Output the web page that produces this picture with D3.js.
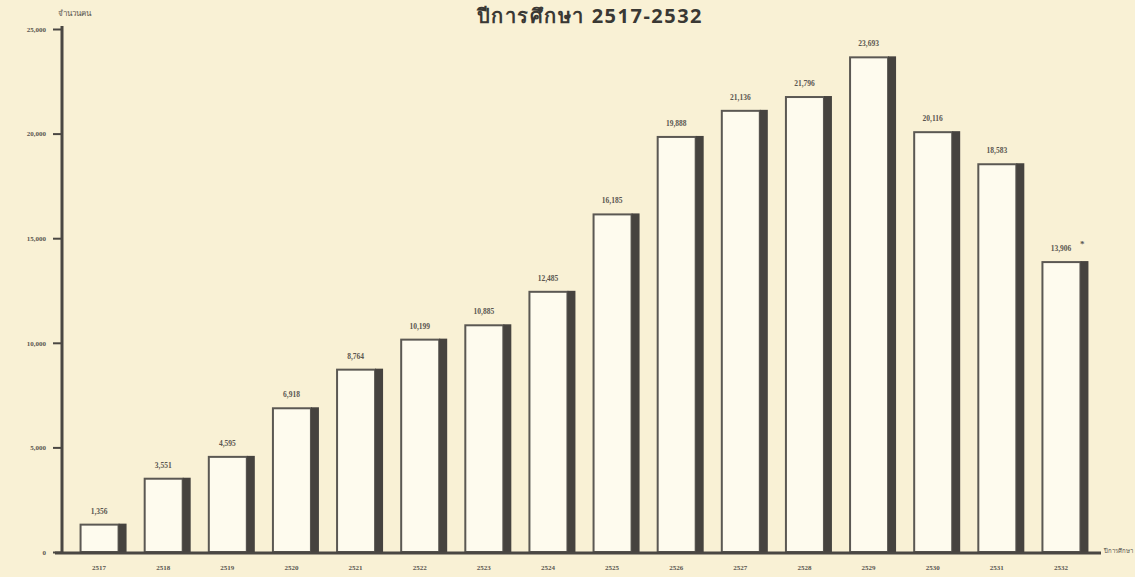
<!DOCTYPE html>
<html>
<head>
<meta charset="utf-8">
<script src="https://cdn.jsdelivr.net/npm/d3@7"></script>
<style>
  html, body { margin: 0; padding: 0; background: #f9f1d5; }
  svg { display: block; }
  .num { font-family: "Liberation Serif", "DejaVu Serif", serif; font-weight: bold; fill: #5a5650; }
</style>
</head>
<body>
<div id="chart"></div>
<script>
// ปีการศึกษา (แกน x)
const years = ["2517", "2518", "2519", "2520", "2521", "2522", "2523", "2524",
               "2525", "2526", "2527", "2528", "2529", "2530", "2531", "2532"];
// จำนวนคน
const students = [1356, 3551, 4595, 6918, 8764, 10199, 10885, 12485,
                  16185, 19888, 21136, 21796, 23693, 20116, 18583, 13906];
const yTicks = [0, 5000, 10000, 15000, 20000, 25000];
const noteMark = ["", "", "", "", "", "", "", "", "", "", "", "", "", "", "", "*"];

const W = 1135, H = 577;
const shadow = 8;

const svg = d3.select("#chart").append("svg")
    .attr("width", W)
    .attr("height", H);

const x = d3.scaleBand()
    .domain(years)
    .range([71, 1097])
    .paddingInner(0.267)
    .paddingOuter(0.1335);

const y = d3.scaleLinear()
    .domain([0, 25000])
    .range([552, 29]);

// title
svg.append("text")
    .attr("x", 590).attr("y", 23)
    .attr("text-anchor", "middle")
    .style("font-family", "'Noto Sans', 'DejaVu Sans', sans-serif")
    .style("font-weight", "bold")
    .style("font-size", "20px")
    .style("letter-spacing", "1.5px")
    .style("fill", "#3a3834")
    .text("ปีการศึกษา 2517-2532");

svg.append("text")
    .attr("x", 58).attr("y", 16)
    .style("font-family", "'Noto Sans', 'DejaVu Sans', sans-serif")
    .style("font-size", "8px")
    .style("fill", "#5a5650")
    .text("จำนวนคน");

// แกน y
const yAxis = svg.append("g")
    .attr("transform", "translate(62,0)")
    .call(d3.axisLeft(y).tickValues(yTicks).tickFormat(d3.format(",")).tickSize(9).tickSizeOuter(0));
yAxis.select(".domain").attr("stroke", "#4a4743").attr("stroke-width", 3)
    .attr("d", `M0,${y(25000) - 3}V${y(0) + 1}`);
yAxis.selectAll(".tick line").attr("stroke", "#4a4743").attr("stroke-width", 2);
yAxis.selectAll(".tick text")
    .attr("class", "num")
    .attr("x", -16)
    .style("font-size", "7px");

// bars
const bars = svg.selectAll(".bar")
    .data(years.map((yr, i) => ({ yr, v: students[i], note: noteMark[i] })))
    .enter().append("g")
    .attr("class", "bar");

bars.append("rect")
    .attr("x", d => x(d.yr) + 1)
    .attr("y", d => y(d.v) + 1)
    .attr("width", x.bandwidth() - shadow - 1)
    .attr("height", d => y(0) - y(d.v) - 1)
    .attr("fill", "#fefbee")
    .attr("stroke", "#5b5853")
    .attr("stroke-width", 2);

bars.append("rect")
    .attr("x", d => x(d.yr) + x.bandwidth() - shadow)
    .attr("y", d => y(d.v))
    .attr("width", shadow)
    .attr("height", d => y(0) - y(d.v))
    .attr("fill", "#46433f");

bars.append("text")
    .attr("class", "num")
    .attr("x", d => x(d.yr) + (x.bandwidth() - shadow) / 2)
    .attr("y", d => y(d.v) - 10)
    .attr("text-anchor", "middle")
    .style("font-size", "7.5px")
    .text(d => d3.format(",")(d.v));

bars.filter(d => d.note).append("text")
    .attr("class", "num")
    .attr("x", d => x(d.yr) + (x.bandwidth() - shadow) / 2 + 19)
    .attr("y", d => y(d.v) - 14)
    .style("font-size", "9px")
    .text(d => d.note);

// แกน x
svg.append("line")
    .attr("x1", 55).attr("x2", 1101)
    .attr("y1", y(0) + 1).attr("y2", y(0) + 1)
    .attr("stroke", "#4a4743")
    .attr("stroke-width", 3);

svg.selectAll(".year")
    .data(years)
    .enter().append("text")
    .attr("class", "num year")
    .attr("x", d => x(d) + (x.bandwidth() - shadow) / 2)
    .attr("y", 570)
    .attr("text-anchor", "middle")
    .style("font-size", "7px")
    .text(d => d);

svg.append("text")
    .attr("x", 1133).attr("y", 553)
    .attr("text-anchor", "end")
    .style("font-family", "'Noto Sans', 'DejaVu Sans', sans-serif")
    .style("font-size", "6px")
    .style("fill", "#5a5650")
    .text("ปีการศึกษา");
</script>
</body>
</html>
